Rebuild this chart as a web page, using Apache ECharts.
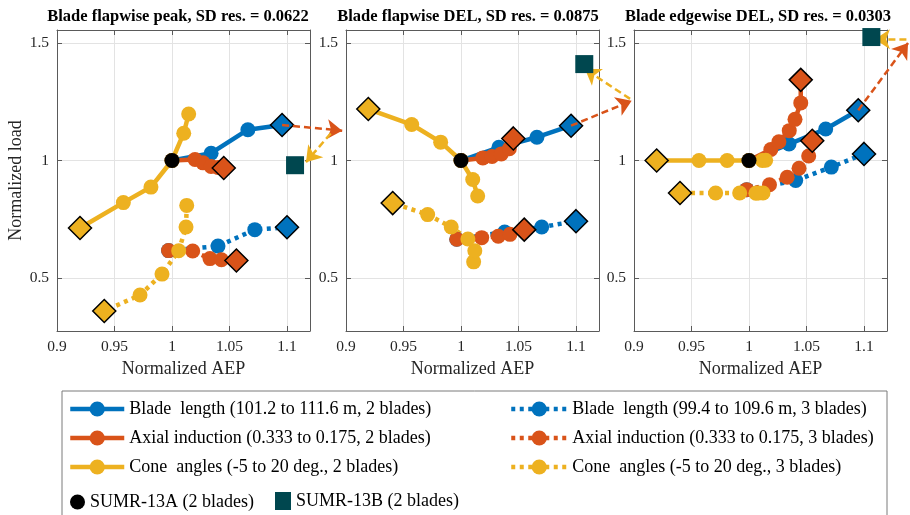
<!DOCTYPE html>
<html><head><meta charset="utf-8">
<script src="https://cdn.jsdelivr.net/npm/echarts@6/dist/echarts.min.js"></script>
<style>html,body{margin:0;padding:0;background:#fff}#c{width:910px;height:515px}</style>
</head><body><div id="c"></div>
<script>
// ---------- data ----------
const panelTitles = ['Blade flapwise peak, SD res. = 0.0622', 'Blade flapwise DEL, SD res. = 0.0875', 'Blade edgewise DEL, SD res. = 0.0303'];
const xTicks = [0.9, 0.95, 1, 1.05, 1.1];
const yTicks = [0.5, 1, 1.5];
const seriesNames = [
  'Blade  length (101.2 to 111.6 m, 2 blades)',
  'Axial induction (0.333 to 0.175, 2 blades)',
  'Cone  angles (-5 to 20 deg., 2 blades)',
  'Blade  length (99.4 to 109.6 m, 3 blades)',
  'Axial induction (0.333 to 0.175, 3 blades)',
  'Cone  angles (-5 to 20 deg., 3 blades)'
];
const nameA = 'SUMR-13A (2 blades)';
const nameB = 'SUMR-13B (2 blades)';

// Panel 1: Blade flapwise peak
const p1Blade2 = [[1,1],[1.034,1.031],[1.066,1.131],[1.0957,1.151]];
const p1Axial2 = [[1,1],[1.02,1.004],[1.027,0.99],[1.034,0.975],[1.04,0.97],[1.045,0.968]];
const p1Cone2  = [[1.0145,1.198],[1.0102,1.116],[1,1],[0.9817,0.887],[0.9577,0.821],[0.92,0.713]];
const p1Blade3 = [[0.997,0.617],[1.04,0.636],[1.072,0.706],[1.1,0.716]];
const p1Axial3 = [[0.997,0.617],[1.018,0.615],[1.033,0.583],[1.043,0.578],[1.056,0.575]];
const p1Cone3  = [[1.0128,0.809],[1.0122,0.717],[1.0058,0.616],[0.9913,0.517],[0.9722,0.428],[0.9411,0.36]];
const p1B = [1.107, 0.98];
const p1ArrowRed = [[1.0957,1.151],[1.148,1.127]];
const p1ArrowYel = [[1.138,1.115],[1.1165,0.993]];

// Panel 2: Blade flapwise DEL
const p2Blade2 = [[1,1],[1.033,1.056],[1.066,1.099],[1.0957,1.148]];
const p2Axial2 = [[1,1],[1.019,1.011],[1.027,1.017],[1.035,1.028],[1.042,1.05],[1.0455,1.094]];
const p2Cone2  = [[1.0145,0.849],[1.0102,0.919],[1,1],[0.9823,1.078],[0.9571,1.153],[0.9194,1.219]];
const p2Blade3 = [[0.9963,0.665],[1.038,0.696],[1.0702,0.717],[1.1,0.742]];
const p2Axial3 = [[0.9963,0.665],[1.018,0.672],[1.0324,0.678],[1.0426,0.686],[1.055,0.706]];
const p2Cone3  = [[1.011,0.569],[1.012,0.616],[1.006,0.666],[0.9915,0.717],[0.971,0.77],[0.9406,0.819]];
const p2B = [1.1072, 1.41];
const p2ArrowRed = [[1.0957,1.148],[1.1484,1.254]];
const p2ArrowYel = [[1.147,1.262],[1.1078,1.389]];

// Panel 3: Blade edgewise DEL
const p3Blade2 = [[1,1],[1.0348,1.07],[1.0667,1.134],[1.095,1.214]];
const p3Axial2 = [[1,1],[1.019,1.047],[1.026,1.08],[1.035,1.127],[1.04,1.175],[1.045,1.245],[1.045,1.343]];
const p3Cone2  = [[1.0145,1.001],[1.0116,1.0],[1,1],[0.981,1.0],[0.9565,1.0],[0.9197,1.0]];
const p3Blade3 = [[0.998,0.876],[1.0406,0.915],[1.0716,0.972],[1.1,1.028]];
const p3Axial3 = [[0.998,0.876],[1.0178,0.897],[1.0332,0.929],[1.0435,0.967],[1.0519,1.019],[1.055,1.084]];
const p3Cone3  = [[1.0122,0.862],[1.0085,0.862],[1.006,0.861],[0.9919,0.862],[0.971,0.862],[0.94,0.862]];
const p3B = [1.1064, 1.525];
const p3ArrowRed = [[1.095,1.214],[1.1383,1.5]];
const p3ArrowYel = [[1.156,1.516],[1.1095,1.516]];

const panels = [
  {curves:[p1Blade2,p1Axial2,p1Cone2,p1Blade3,p1Axial3,p1Cone3], B:p1B, red:p1ArrowRed, yel:p1ArrowYel},
  {curves:[p2Blade2,p2Axial2,p2Cone2,p2Blade3,p2Axial3,p2Cone3], B:p2B, red:p2ArrowRed, yel:p2ArrowYel},
  {curves:[p3Blade2,p3Axial2,p3Cone2,p3Blade3,p3Axial3,p3Cone3], B:p3B, red:p3ArrowRed, yel:p3ArrowYel}
];

// ---------- style ----------
const colors = ['#0072BD', '#D95319', '#EDB120', '#0072BD', '#D95319', '#EDB120'];
const squareColor = '#00474f';
const serif = '"Liberation Serif", "Times New Roman", serif';
const gridLefts = [57, 346, 634];
const gridW = 253, gridTop = 30, gridH = 301;
const titleCenters = [178, 468, 758];
const axisColor = '#5a5a5a';
const fmt = v => String(+(+v).toFixed(2));

const grids = [], xAxes = [], yAxes = [], series = [], graphics = [];
panels.forEach((p, i) => {
  grids.push({left: gridLefts[i], top: gridTop, width: gridW, height: gridH});
  xAxes.push({
    type: 'value', gridIndex: i, min: 0.9, max: 1.12, position: 'bottom',
    axisLine: {show: true, onZero: false, lineStyle: {color: axisColor, width: 1}},
    axisTick: {show: true, inside: true, length: 5, customValues: xTicks, lineStyle: {color: axisColor}},
    axisLabel: {customValues: xTicks, formatter: fmt, fontFamily: serif, fontSize: 15.5, color: '#262626', margin: 8},
    splitLine: {show: true, lineStyle: {color: '#e3e3e3', width: 1}},
    name: 'Normalized AEP', nameLocation: 'middle', nameGap: 28,
    nameTextStyle: {fontFamily: serif, fontSize: 18, color: '#262626'}
  });
  xAxes.push({
    type: 'value', gridIndex: i, min: 0.9, max: 1.12, position: 'top',
    axisLine: {show: true, onZero: false, lineStyle: {color: axisColor, width: 1}},
    axisTick: {show: true, inside: true, length: 5, customValues: xTicks, lineStyle: {color: axisColor}},
    axisLabel: {show: false}, splitLine: {show: false}
  });
  yAxes.push({
    type: 'value', gridIndex: i, min: 0.275, max: 1.555, position: 'left',
    axisLine: {show: true, onZero: false, lineStyle: {color: axisColor, width: 1}},
    axisTick: {show: true, inside: true, length: 5, customValues: yTicks, lineStyle: {color: axisColor}},
    axisLabel: {customValues: yTicks, formatter: fmt, fontFamily: serif, fontSize: 15.5, color: '#262626', margin: 8},
    splitLine: {show: true, lineStyle: {color: '#e3e3e3', width: 1}},
    name: i === 0 ? 'Normalized load' : '', nameLocation: 'middle', nameGap: 30,
    nameTextStyle: {fontFamily: serif, fontSize: 18, color: '#262626'}
  });
  yAxes.push({
    type: 'value', gridIndex: i, min: 0.275, max: 1.555, position: 'right',
    axisLine: {show: true, onZero: false, lineStyle: {color: axisColor, width: 1}},
    axisTick: {show: true, inside: true, length: 5, customValues: yTicks, lineStyle: {color: axisColor}},
    axisLabel: {show: false}, splitLine: {show: false}
  });

  p.curves.forEach((pts, k) => {
    const dotted = k >= 3;
    series.push({
      type: 'line', name: seriesNames[k], xAxisIndex: 2 * i, yAxisIndex: 2 * i,
      clip: false, z: 2, animation: false,
      symbol: 'circle', symbolSize: 15, showAllSymbol: true,
      itemStyle: {color: colors[k], opacity: 1},
      lineStyle: {color: colors[k], width: 4.5, type: dotted ? [4, 4.5] : 'solid', cap: 'butt'},
      data: pts.map((pt, j) => j === pts.length - 1
        ? {value: pt, symbol: 'diamond', symbolSize: 23, itemStyle: {color: colors[k], borderColor: '#000', borderWidth: 1.5}}
        : {value: pt})
    });
  });
  series.push({
    type: 'lines', coordinateSystem: 'cartesian2d', xAxisIndex: 2 * i, yAxisIndex: 2 * i,
    clip: false, z: 3, animation: false, silent: true,
    symbol: ['none', 'arrow'], symbolSize: [12, 15],
    lineStyle: {color: '#D95319', width: 2.5, type: [7, 4], opacity: 1},
    data: [{coords: p.red}]
  });
  series.push({
    type: 'lines', coordinateSystem: 'cartesian2d', xAxisIndex: 2 * i, yAxisIndex: 2 * i,
    clip: false, z: 3, animation: false, silent: true,
    symbol: ['none', 'arrow'], symbolSize: [12, 15],
    lineStyle: {color: '#EDB120', width: 2.5, type: [7, 4], opacity: 1},
    data: [{coords: p.yel}]
  });
  series.push({
    type: 'scatter', name: nameA, xAxisIndex: 2 * i, yAxisIndex: 2 * i, clip: false, z: 4, animation: false,
    symbol: 'circle', symbolSize: 15, itemStyle: {color: '#000', opacity: 1}, data: [[1, 1]]
  });
  series.push({
    type: 'scatter', name: nameB, xAxisIndex: 2 * i, yAxisIndex: 2 * i, clip: false, z: 4, animation: false,
    symbol: 'rect', symbolSize: 18, itemStyle: {color: squareColor, opacity: 1}, data: [p.B]
  });
  graphics.push({
    type: 'text', x: titleCenters[i], y: 17, z: 10,
    style: {text: panelTitles[i], textAlign: 'center', textVerticalAlign: 'middle',
      font: 'bold 16.5px ' + serif, fill: '#000'}
  });
});

graphics.push({
  type: 'rect', z: -1, shape: {x: 62, y: 391, width: 825, height: 140},
  style: {fill: '#fff', stroke: '#7a7a7a', lineWidth: 1}
});

const legendText = {fontFamily: serif, fontSize: 18, color: '#000', lineHeight: 18};
const legends = [
  {left: 68, top: 400, orient: 'vertical', itemWidth: 54, itemHeight: 19, itemGap: 11,
    data: seriesNames.slice(0, 3), textStyle: legendText, lineStyle: {width: 4.5}},
  {left: 509, top: 400, orient: 'vertical', itemWidth: 56, itemHeight: 19, itemGap: 11,
    data: seriesNames.slice(3, 6), textStyle: legendText, lineStyle: {width: 4.5}},
  {left: 70, top: 493, itemWidth: 15, itemHeight: 15, data: [{name: nameA, icon: 'circle'}], textStyle: legendText},
  {left: 275, top: 492, itemWidth: 16, itemHeight: 18, data: [{name: nameB, icon: 'rect'}], textStyle: legendText}
].map(l => Object.assign({selectedMode: false, padding: 0}, l));

const chart = echarts.init(document.getElementById('c'), null, {renderer: 'canvas'});
chart.setOption({
  animation: false,
  backgroundColor: '#fff',
  grid: grids, xAxis: xAxes, yAxis: yAxes,
  legend: legends,
  series: series,
  graphic: graphics
});
</script></body></html>
